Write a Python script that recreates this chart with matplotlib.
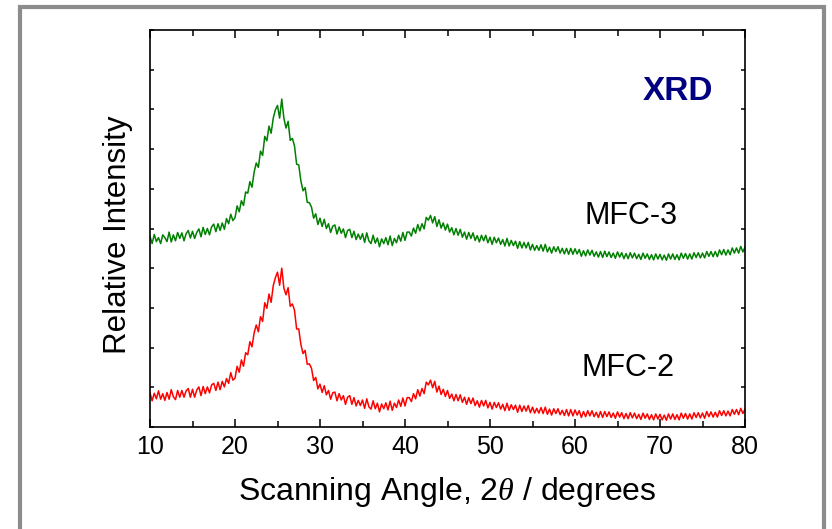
import numpy as np
import matplotlib
matplotlib.use("Agg")
import matplotlib.pyplot as plt
from matplotlib.patches import Rectangle

plt.rcParams['font.family'] = ['Liberation Sans', 'DejaVu Sans']
plt.rcParams['mathtext.fontset'] = 'custom'
plt.rcParams['mathtext.it'] = 'Liberation Serif:italic'
plt.rcParams['mathtext.rm'] = 'Liberation Sans'

# 2-theta grid: 10 to 80 degrees, step 0.25
two_theta_start = 10.0
two_theta_step = 0.25

mfc3 = [
    4.80, 4.62, 4.85, 4.67, 4.77, 4.62, 4.84, 4.77, 4.67, 4.91, 4.66, 4.84,
    4.69, 4.90, 4.75, 4.89, 4.69, 4.87, 4.95, 4.76, 4.93, 4.75, 4.90, 4.99,
    4.79, 5.03, 4.85, 5.00, 4.84, 5.04, 5.11, 4.92, 5.12, 4.95, 5.14, 4.98,
    5.25, 5.12, 5.36, 5.20, 5.27, 5.57, 5.42, 5.70, 5.58, 5.92, 5.89, 6.18,
    6.04, 6.42, 6.65, 6.54, 6.95, 6.84, 7.32, 7.21, 7.58, 7.40, 7.78, 7.99,
    8.10, 7.78, 8.26, 7.78, 7.53, 7.70, 7.22, 7.27, 7.08, 6.62, 6.60, 6.20,
    5.95, 6.03, 5.66, 5.65, 5.54, 5.26, 5.37, 5.10, 5.26, 5.05, 5.23, 5.00,
    5.12, 4.90, 5.06, 5.09, 4.86, 5.04, 4.88, 4.99, 4.77, 4.95, 4.98, 4.77,
    4.93, 4.72, 4.86, 4.73, 4.87, 4.65, 4.89, 4.69, 4.62, 4.83, 4.63, 4.76,
    4.54, 4.74, 4.62, 4.77, 4.59, 4.81, 4.57, 4.75, 4.64, 4.83, 4.68, 4.90,
    4.70, 4.91, 4.91, 4.81, 5.01, 4.88, 5.10, 4.94, 5.12, 4.99, 5.28, 5.21,
    5.33, 5.14, 5.30, 5.05, 5.22, 5.01, 5.14, 4.96, 5.11, 4.91, 5.02, 4.84,
    5.00, 4.83, 4.98, 4.78, 4.91, 4.73, 4.90, 4.75, 4.89, 4.70, 4.82, 4.66,
    4.83, 4.69, 4.83, 4.64, 4.78, 4.60, 4.78, 4.64, 4.76, 4.60, 4.72, 4.56,
    4.75, 4.56, 4.70, 4.57, 4.68, 4.50, 4.67, 4.51, 4.65, 4.51, 4.65, 4.46,
    4.60, 4.45, 4.57, 4.45, 4.59, 4.43, 4.60, 4.41, 4.53, 4.38, 4.54, 4.42,
    4.54, 4.38, 4.50, 4.36, 4.50, 4.35, 4.50, 4.35, 4.49, 4.36, 4.47, 4.30,
    4.44, 4.31, 4.46, 4.33, 4.45, 4.30, 4.41, 4.28, 4.42, 4.27, 4.43, 4.29,
    4.41, 4.27, 4.38, 4.25, 4.41, 4.28, 4.39, 4.24, 4.37, 4.24, 4.39, 4.26,
    4.38, 4.24, 4.35, 4.22, 4.38, 4.25, 4.36, 4.22, 4.34, 4.21, 4.36, 4.23,
    4.35, 4.21, 4.33, 4.20, 4.36, 4.23, 4.36, 4.22, 4.34, 4.21, 4.38, 4.25,
    4.37, 4.23, 4.36, 4.23, 4.39, 4.27, 4.39, 4.26, 4.38, 4.26, 4.42, 4.30,
    4.42, 4.29, 4.42, 4.29, 4.46, 4.34, 4.47, 4.33, 4.46, 4.34, 4.51, 4.38,
    4.51, 4.38, 4.55, 4.41, 4.53,
]

mfc2 = [
    0.86, 0.66, 0.85, 0.71, 0.91, 0.70, 0.84, 0.67, 0.87, 0.70, 0.94, 0.76,
    0.69, 0.92, 0.75, 0.92, 0.75, 0.91, 0.97, 0.75, 0.95, 0.75, 0.93, 1.01,
    0.79, 1.02, 0.84, 1.01, 0.86, 1.06, 1.10, 0.92, 1.13, 0.94, 1.15, 1.01,
    1.22, 1.10, 1.37, 1.18, 1.23, 1.53, 1.38, 1.69, 1.53, 1.87, 1.82, 2.15,
    2.02, 2.37, 2.57, 2.40, 2.78, 2.66, 3.13, 2.99, 3.35, 3.14, 3.56, 3.76,
    3.90, 3.57, 4.00, 3.50, 3.33, 3.51, 3.04, 3.10, 2.94, 2.47, 2.47, 2.08,
    1.85, 1.93, 1.58, 1.59, 1.48, 1.17, 1.25, 0.96, 1.08, 0.87, 1.04, 0.81,
    0.92, 0.70, 0.86, 0.88, 0.66, 0.84, 0.68, 0.79, 0.57, 0.75, 0.79, 0.57,
    0.74, 0.53, 0.67, 0.54, 0.68, 0.47, 0.71, 0.51, 0.45, 0.66, 0.46, 0.60,
    0.38, 0.58, 0.46, 0.61, 0.43, 0.65, 0.42, 0.60, 0.49, 0.68, 0.52, 0.73,
    0.53, 0.74, 0.74, 0.64, 0.84, 0.71, 0.94, 0.78, 0.97, 0.84, 1.13, 1.06,
    1.18, 0.99, 1.15, 0.88, 1.03, 0.82, 0.95, 0.77, 0.92, 0.72, 0.83, 0.66,
    0.82, 0.66, 0.81, 0.62, 0.75, 0.57, 0.74, 0.59, 0.73, 0.54, 0.66, 0.50,
    0.67, 0.53, 0.67, 0.48, 0.62, 0.45, 0.62, 0.49, 0.61, 0.45, 0.57, 0.41,
    0.60, 0.42, 0.56, 0.44, 0.55, 0.37, 0.55, 0.39, 0.53, 0.40, 0.54, 0.36,
    0.50, 0.35, 0.47, 0.35, 0.49, 0.34, 0.50, 0.32, 0.45, 0.30, 0.46, 0.34,
    0.46, 0.31, 0.42, 0.29, 0.44, 0.28, 0.44, 0.28, 0.43, 0.30, 0.41, 0.24,
    0.39, 0.26, 0.41, 0.28, 0.41, 0.26, 0.37, 0.24, 0.39, 0.24, 0.39, 0.26,
    0.38, 0.24, 0.35, 0.22, 0.38, 0.25, 0.36, 0.21, 0.34, 0.21, 0.36, 0.23,
    0.35, 0.21, 0.32, 0.19, 0.35, 0.22, 0.33, 0.19, 0.31, 0.18, 0.33, 0.20,
    0.32, 0.18, 0.30, 0.17, 0.33, 0.20, 0.33, 0.19, 0.31, 0.18, 0.35, 0.22,
    0.34, 0.20, 0.33, 0.20, 0.36, 0.24, 0.36, 0.23, 0.35, 0.22, 0.39, 0.26,
    0.38, 0.25, 0.37, 0.25, 0.41, 0.29, 0.41, 0.28, 0.40, 0.28, 0.44, 0.32,
    0.44, 0.31, 0.47, 0.34, 0.45,
]

x_ticks = [10, 20, 30, 40, 50, 60, 70, 80]

two_theta = two_theta_start + two_theta_step * np.arange(len(mfc3))

fig = plt.figure(figsize=(8.32, 5.29), dpi=100)
ax = fig.add_axes([150/832, 1 - 427/529, (745-150)/832, (427-30)/529])

ax.plot(two_theta, mfc3, color='#008000', lw=1.1)
ax.plot(two_theta, mfc2, color='#ff0000', lw=1.1)

ax.set_xlim(10, 80)
ax.set_ylim(0, 10)
ax.set_xticks(x_ticks)
ax.set_xticks(np.arange(15, 80, 10), minor=True)
ax.set_yticks(np.arange(0, 11, 1))
ax.set_yticklabels([])
ax.tick_params(axis='both', which='both', direction='in', top=True, right=True, width=1.1)
ax.tick_params(axis='x', which='major', length=6, labelsize=18, pad=6)
ax.tick_params(axis='x', which='minor', length=4)
ax.tick_params(axis='y', which='major', length=3)
for s in ax.spines.values():
    s.set_linewidth(1.2)

ax.set_xlabel('Scanning Angle, 2$\\it{\\theta}$ / degrees', fontsize=23, labelpad=11)
ax.set_ylabel('Relative Intensity', fontsize=22.5)
ax.yaxis.set_label_coords(-0.029, 0.483)

ax.text(66.6, 5.31, 'MFC-3', fontsize=22, ha='center', va='center')
ax.text(66.2, 1.49, 'MFC-2', fontsize=22, ha='center', va='center')
ax.text(72.1, 8.45, 'XRD', fontsize=24, fontweight='bold', color='#000080',
        ha='center', va='center')

border = Rectangle((20/832, -0.05), (824-20)/832, 1.05 - 7/529,
                   transform=fig.transFigure, fill=False, edgecolor='#8c8c8c',
                   linewidth=3.0, clip_on=False)
fig.patches.append(border)

fig.savefig('out.png', dpi=100)
